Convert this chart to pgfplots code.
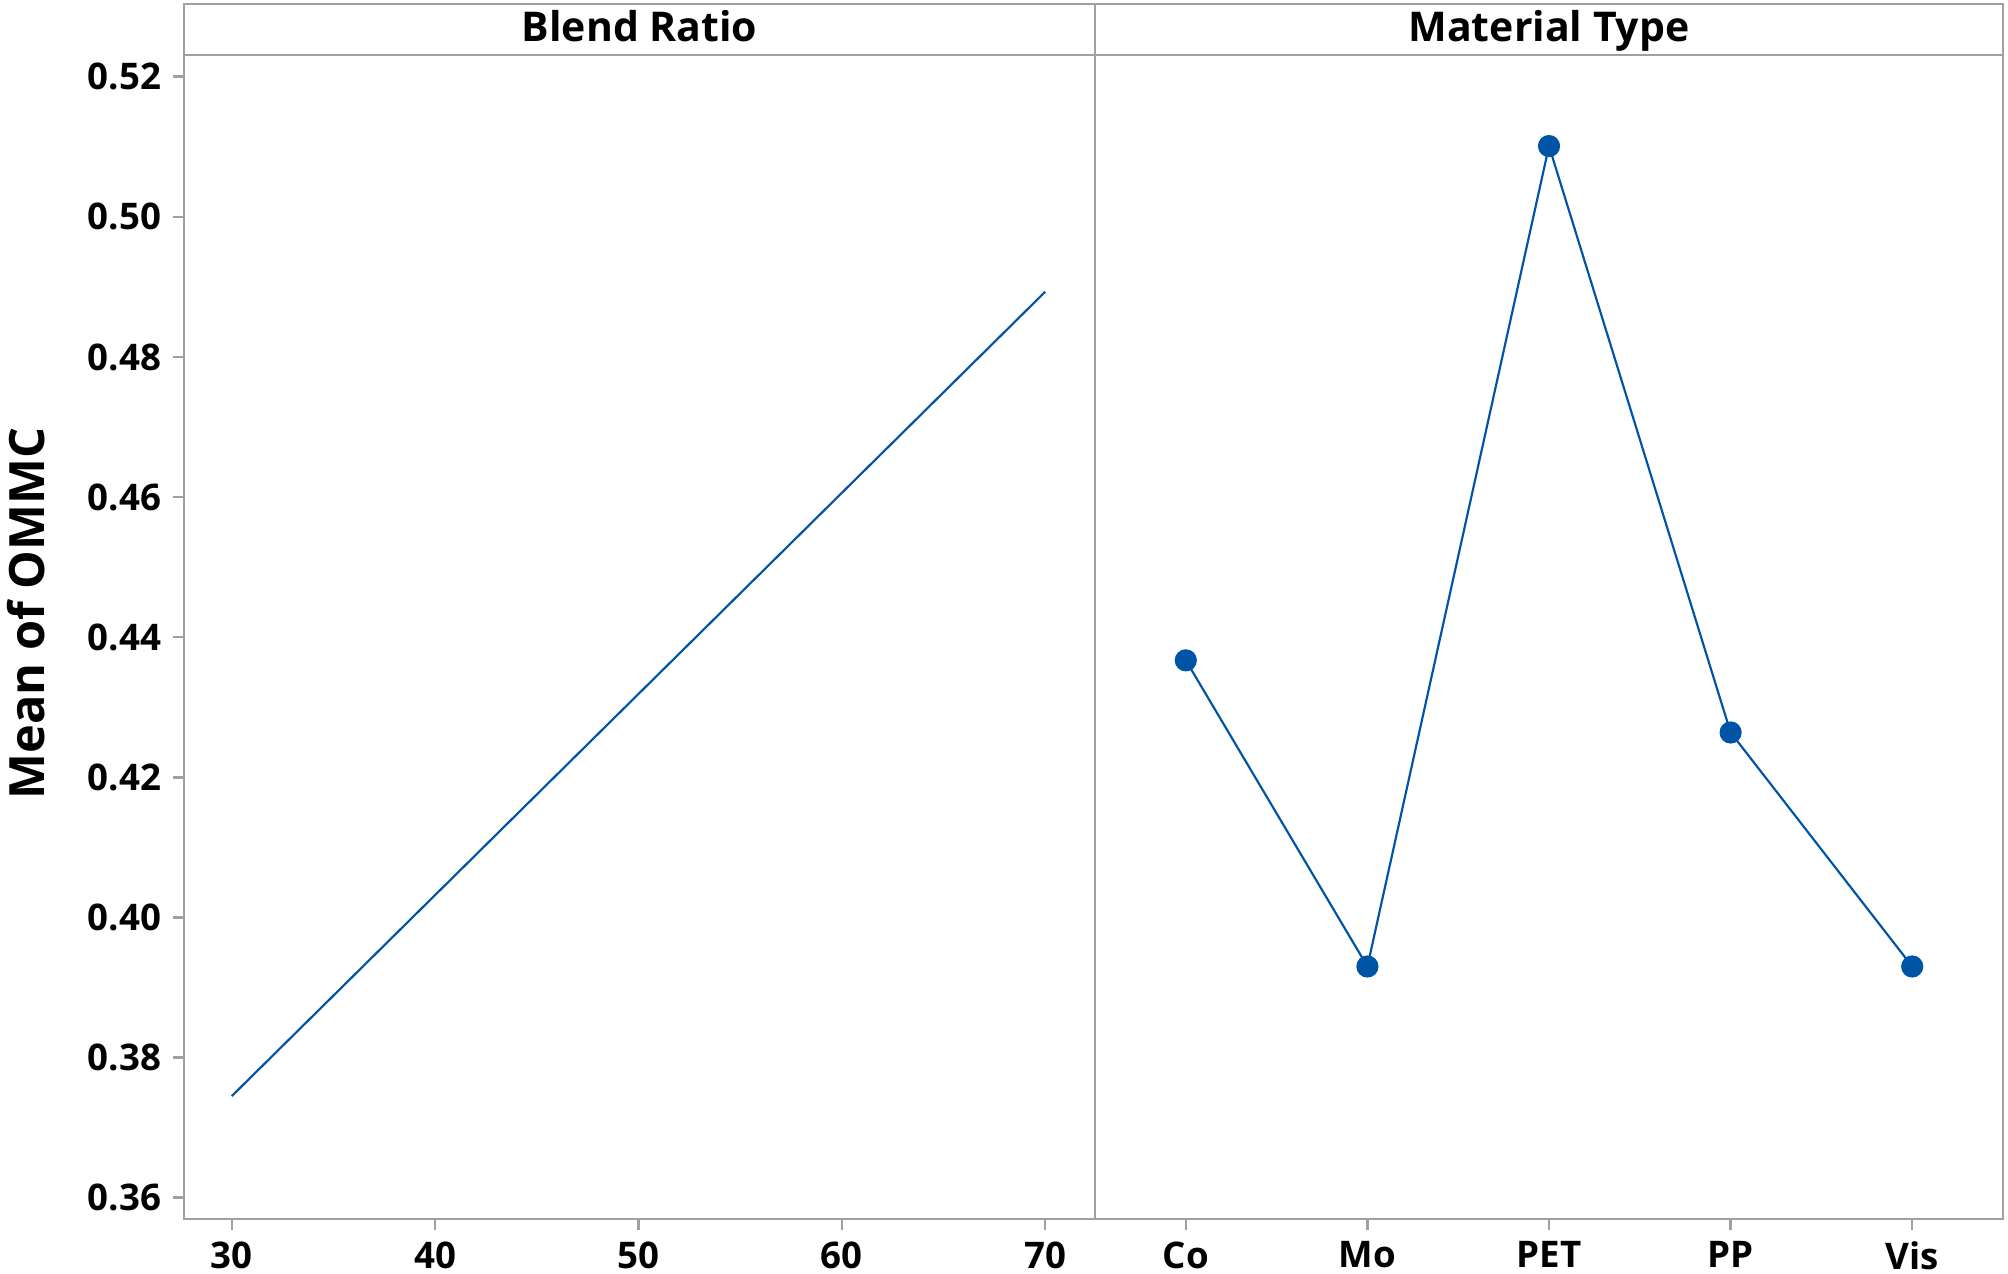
\documentclass[border=0pt]{standalone}
\usepackage{fontspec}
\setmainfont{Open Sans}
\usepackage{pgfplots}
\pgfplotsset{compat=1.18}
\usetikzlibrary{calc}
\definecolor{mblue}{HTML}{0054A6}
\definecolor{fgray}{HTML}{A0A0A0}
\pgfplotsset{
  panel/.style={
    scale only axis,
    height=349.2pt,
    ymin=0.35696, ymax=0.5231,
    axis line style={fgray, line width=0.75pt},
    tick style={fgray, line width=0.75pt},
    tick align=outside,
    major tick length=3.3pt,
    xtick pos=bottom, ytick pos=left,
    /pgf/number format/assume math mode=true,
    ticklabel style={font=\fontsize{11}{13}\selectfont\bfseries, text=black},
  },
}
\begin{document}
\begin{tikzpicture}
\useasboundingbox (-55.2pt,-16.5pt) rectangle (547.2pt,365.7pt);
\begin{axis}[panel, name=left, at={(0pt,0pt)}, anchor=south west,
  width=273.3pt,
  xmin=27.65, xmax=72.45,
  xtick={30,40,50,60,70},
  ytick={0.36,0.38,0.40,0.42,0.44,0.46,0.48,0.50,0.52},
  yticklabel style={/pgf/number format/.cd, fixed, fixed zerofill, precision=2},
  ylabel={Mean of OMMC},
  every axis y label/.style={at={(axis description cs:0,0.52)}, xshift=-47.4pt, rotate=90, anchor=center, font=\fontsize{14.6}{17}\selectfont\bfseries},
]
\addplot[mblue, line width=0.65pt] coordinates {(30,0.3745) (40,0.4032) (50,0.4319) (60,0.4606) (70,0.4893)};
\end{axis}
\begin{axis}[panel, name=right, at={(273.3pt,0pt)}, anchor=south west,
  width=272.4pt,
  xmin=-0.5, xmax=4.5,
  xtick={0,1,2,3,4},
  xticklabels={Co,Mo,PET,PP,Vis},
  ytick=\empty,
]
\addplot[mblue, line width=0.65pt, mark=*, mark size=3pt, mark options={fill=mblue, draw=mblue}] coordinates {(0,0.4367) (1,0.3930) (2,0.5101) (3,0.4264) (4,0.3930)};
\end{axis}
\draw[fgray, line width=0.75pt] (left.north west) rectangle ($(right.north east)+(0,15.3pt)$);
\draw[fgray, line width=0.75pt] (left.north east) -- ++(0,15.3pt);
\node[font=\fontsize{12.3}{15}\selectfont\bfseries, anchor=base, inner sep=0pt] at ($(left.north)+(0,4pt)$) {Blend Ratio};
\node[font=\fontsize{12.3}{15}\selectfont\bfseries, anchor=base, inner sep=0pt] at ($(right.north)+(0,4pt)$) {Material Type};
\end{tikzpicture}
\end{document}
